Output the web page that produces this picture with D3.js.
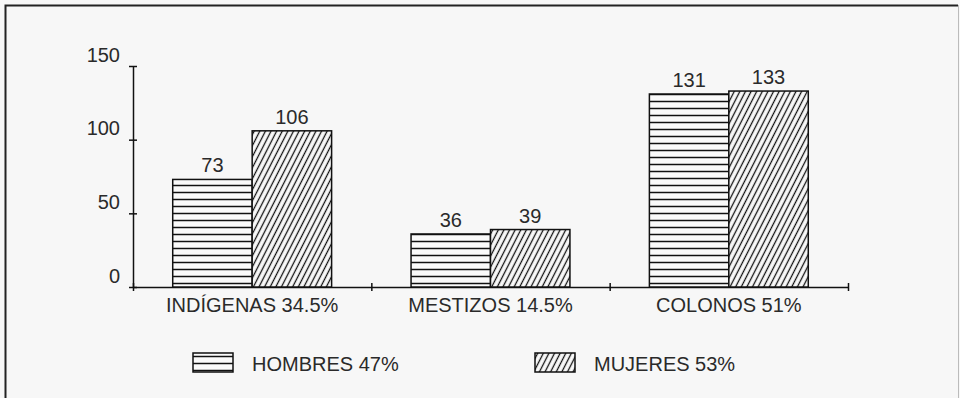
<!DOCTYPE html>
<html>
<head>
<meta charset="utf-8">
<script src="https://cdn.jsdelivr.net/npm/d3@7"></script>
<style>
  body { margin: 0; background: #f7f7f7; }
  text { font-family: "Liberation Sans", Arial, sans-serif; fill: #2a2a2a; }
</style>
</head>
<body>
<div id="chart"></div>
<script>
// data
var categories = ["INDÍGENAS 34.5%", "MESTIZOS 14.5%", "COLONOS 51%"];
var hombres = [73, 36, 131];
var mujeres = [106, 39, 133];
var seriesNames = ["HOMBRES 47%", "MUJERES 53%"];
var yTicks = [0, 50, 100, 150];

var width = 960, height = 398;

var svg = d3.select("#chart")
    .append("svg")
    .attr("width", width)
    .attr("height", height);

svg.append("rect")
    .attr("width", width).attr("height", height)
    .attr("fill", "#f7f7f7");

// frame (scanned page border)
svg.append("path")
    .attr("d", "M5.5,400 L5.5,5.5 L958,5.5")
    .attr("fill", "none").attr("stroke", "#222").attr("stroke-width", 2);
svg.append("line")
    .attr("x1", 958.5).attr("x2", 958.5).attr("y1", 5).attr("y2", 398)
    .attr("stroke", "#bbb").attr("stroke-width", 1);

// hatch patterns
var defs = svg.append("defs");
var pH = defs.append("pattern")
    .attr("id", "hatchH")
    .attr("patternUnits", "userSpaceOnUse")
    .attr("width", 8).attr("height", 7);
pH.append("rect").attr("width", 8).attr("height", 7).attr("fill", "#fafafa");
pH.append("line")
    .attr("x1", 0).attr("x2", 8).attr("y1", 3.5).attr("y2", 3.5)
    .attr("stroke", "#111").attr("stroke-width", 1.5);

var pD = defs.append("pattern")
    .attr("id", "hatchD")
    .attr("patternUnits", "userSpaceOnUse")
    .attr("width", 5).attr("height", 10)
    .attr("patternTransform", "rotate(27)");
pD.append("rect").attr("width", 5).attr("height", 10).attr("fill", "#fafafa");
pD.append("line")
    .attr("x1", 2.5).attr("x2", 2.5).attr("y1", 0).attr("y2", 10)
    .attr("stroke", "#111").attr("stroke-width", 1.3);

var fills = ["url(#hatchH)", "url(#hatchD)"];

// scales
var x = d3.scaleBand()
    .domain(categories)
    .range([133, 848])
    .padding(0);

var xSub = d3.scaleBand()
    .domain([0, 1])
    .range([0, x.bandwidth()])
    .paddingInner(0)
    .paddingOuter(0.5);

var y = d3.scaleLinear()
    .domain([0, 150])
    .range([287, 66]);

// y axis
var yAxis = svg.append("g")
    .attr("transform", "translate(133,0)")
    .call(d3.axisLeft(y).tickValues(yTicks).tickSizeOuter(0));
yAxis.select(".domain").attr("stroke", "#111").attr("stroke-width", 1.5);
yAxis.selectAll(".tick line")
    .attr("x1", -4).attr("x2", 4)
    .attr("stroke", "#111").attr("stroke-width", 1.5);
yAxis.selectAll(".tick text")
    .attr("x", -13)
    .attr("dy", "-0.25em")
    .attr("font-size", "20px")
    .attr("font-family", "Liberation Sans, Arial, sans-serif")
    .attr("fill", "#2a2a2a");

// x axis with ticks on the band edges
var xEdge = d3.scaleLinear().domain([0, categories.length]).range(x.range());
var xAxis = svg.append("g")
    .attr("transform", "translate(0," + y(0) + ")")
    .call(d3.axisBottom(xEdge)
        .tickValues(d3.range(categories.length + 1))
        .tickFormat("")
        .tickSizeOuter(0));
xAxis.select(".domain").attr("stroke", "#111").attr("stroke-width", 1.5);
xAxis.selectAll(".tick line")
    .attr("y1", -4).attr("y2", 4)
    .attr("stroke", "#111").attr("stroke-width", 1.5);

// category labels
svg.append("g")
    .selectAll("text")
    .data(categories)
    .enter().append("text")
    .attr("x", function (d) { return x(d) + x.bandwidth() / 2; })
    .attr("y", 312)
    .attr("text-anchor", "middle")
    .attr("font-size", "20px")
    .text(function (d) { return d; });

// bars
var rows = categories.map(function (c, i) {
    return {cat: c, values: [hombres[i], mujeres[i]]};
});

var groups = svg.append("g")
    .selectAll("g")
    .data(rows)
    .enter().append("g")
    .attr("transform", function (d) { return "translate(" + x(d.cat) + ",0)"; });

groups.selectAll("rect")
    .data(function (d) { return d.values; })
    .enter().append("rect")
    .attr("x", function (d, i) { return xSub(i); })
    .attr("y", function (d) { return y(d); })
    .attr("width", xSub.bandwidth())
    .attr("height", function (d) { return y(0) - y(d); })
    .attr("fill", function (d, i) { return fills[i]; })
    .attr("stroke", "#111")
    .attr("stroke-width", 1.5);

groups.selectAll("text")
    .data(function (d) { return d.values; })
    .enter().append("text")
    .attr("x", function (d, i) { return xSub(i) + xSub.bandwidth() / 2; })
    .attr("y", function (d) { return y(d) - 7; })
    .attr("text-anchor", "middle")
    .attr("font-size", "20px")
    .text(function (d) { return d; });

// legend
var legendX = [193, 535];
var legend = svg.append("g")
    .selectAll("g")
    .data(seriesNames)
    .enter().append("g")
    .attr("transform", function (d, i) { return "translate(" + legendX[i] + ",353)"; });

legend.append("rect")
    .attr("width", 40).attr("height", 19)
    .attr("fill", function (d, i) { return fills[i]; })
    .attr("stroke", "#111")
    .attr("stroke-width", 1.5);

legend.append("text")
    .attr("x", 59)
    .attr("y", 18)
    .attr("font-size", "20px")
    .text(function (d) { return d; });
</script>
</body>
</html>
